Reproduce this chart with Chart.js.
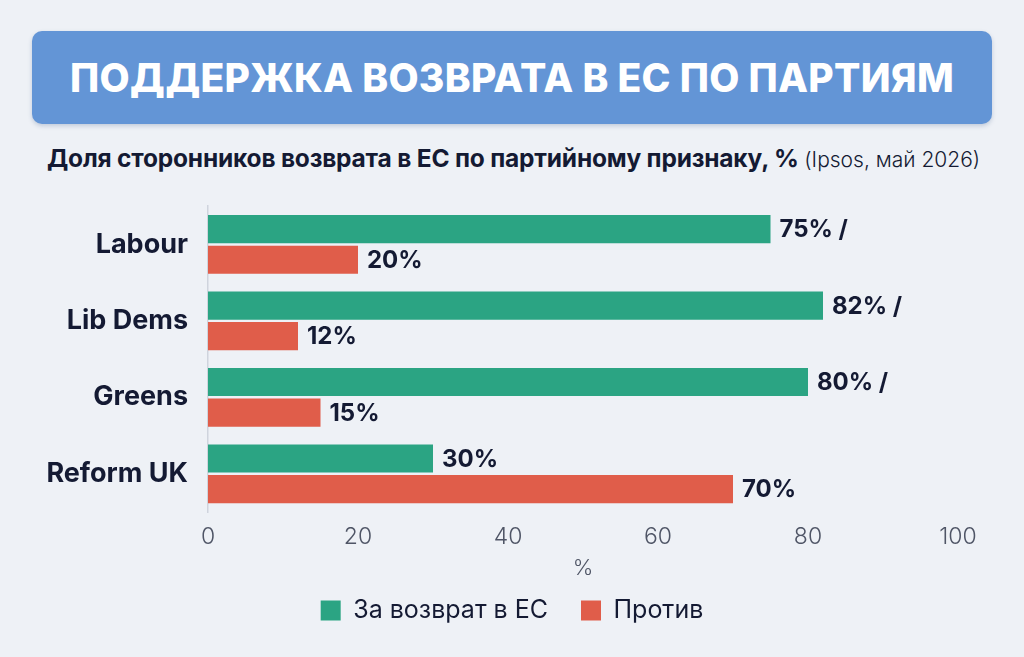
<!DOCTYPE html>
<html>
<head>
<meta charset="utf-8">
<script src="https://cdn.jsdelivr.net/npm/chart.js@4"></script>
<style>
  html, body { margin: 0; padding: 0; }
  body {
    width: 1024px; height: 657px; overflow: hidden;
    background: #eef1f6;
    font-family: Inter, "Noto Sans", sans-serif;
    position: relative;
  }
  .title-box {
    position: absolute; left: 32px; top: 31px; width: 960px; height: 93px;
    background: #6395d6; border-radius: 10px;
    box-shadow: 0 2px 4px rgba(60, 90, 140, 0.25);
    color: #fff; font-weight: 800; font-size: 39px;
    display: flex; align-items: center; justify-content: center;
    letter-spacing: 0.3px;
  }
  .subtitle {
    position: absolute; left: 47px; top: 143px;
    font-size: 24.5px; color: #141a33; font-weight: 700; white-space: nowrap;
    letter-spacing: -0.2px;
  }
  .subtitle span { font-weight: 300; font-size: 21px; letter-spacing: 0; }
  .chart-wrap { position: absolute; left: 0; top: 170px; width: 1024px; height: 487px; }
</style>
</head>
<body>
<div class="title-box">ПОДДЕРЖКА ВОЗВРАТА В ЕС ПО ПАРТИЯМ</div>
<div class="subtitle">Доля сторонников возврата в ЕС по партийному признаку, % <span>(Ipsos, май 2026)</span></div>
<div class="chart-wrap"><canvas id="chart"></canvas></div>
<script>
const parties = ["Labour", "Lib Dems", "Greens", "Reform UK"];
const forReturn = [75, 82, 80, 30];
const against = [20, 12, 15, 70];
const forLabels = ["75% /", "82% /", "80% /", "30%"];
const againstLabels = ["20%", "12%", "15%", "70%"];
const xTicks = [0, 20, 40, 60, 80, 100];

const GREEN = "#2ba483";
const RED = "#e05d4a";
const DARK = "#141a33";
const FONT = "Inter, 'Noto Sans', sans-serif";

// draws value labels right after each bar
const barLabels = {
    id: "barLabels",
    afterDatasetsDraw(chart) {
        const ctx = chart.ctx;
        ctx.save();
        ctx.font = "700 24px " + FONT;
        ctx.fillStyle = DARK;
        ctx.textBaseline = "middle";
        ctx.textAlign = "left";
        const texts = [forLabels, againstLabels];
        chart.data.datasets.forEach((ds, i) => {
            chart.getDatasetMeta(i).data.forEach((bar, j) => {
                ctx.fillText(texts[i][j], bar.x + 9, bar.y + 1);
            });
        });
        ctx.restore();
    }
};

// keep the legend centred on the page, not on the padded area
const centerLegend = {
    id: "centerLegend",
    afterLayout(chart) {
        if (chart.legend) chart.legend.left = chart.width - chart.legend.right;
    }
};

const ctx = document.getElementById("chart").getContext("2d");
new Chart(ctx, {
    type: "bar",
    data: {
        labels: parties,
        datasets: [
            {
                label: "За возврат в ЕС",
                data: forReturn,
                backgroundColor: GREEN,
                categoryPercentage: 0.8,
                barPercentage: 0.92,
            },
            {
                label: "Против",
                data: against,
                backgroundColor: RED,
                categoryPercentage: 0.8,
                barPercentage: 0.92,
            },
        ],
    },
    options: {
        indexAxis: "y",
        responsive: true,
        maintainAspectRatio: false,
        animation: false,
        layout: { padding: { top: 0, right: 66, left: 0, bottom: 24 } },
        scales: {
            x: {
                min: 0,
                max: 100,
                afterBuildTicks: (scale) => { scale.ticks = xTicks.map(v => ({ value: v })); },
                grid: { display: false, drawTicks: false },
                border: { display: false },
                ticks: {
                    color: "#4f5566",
                    padding: 11,
                    font: { family: FONT, size: 23, weight: 300 },
                },
                title: {
                    display: true,
                    text: "%",
                    color: "#4f5566",
                    padding: { top: -6, bottom: -17 },
                    font: { family: FONT, size: 22, weight: 300 },
                },
            },
            y: {
                grid: { display: false, drawTicks: false },
                border: { display: true, color: "#cfd4dd", width: 1.5 },
                afterFit: (scale) => { scale.width = 208; },
                ticks: {
                    color: DARK,
                    padding: 20,
                    font: { family: FONT, size: 27, weight: 700 },
                },
            },
        },
        plugins: {
            legend: {
                position: "bottom",
                labels: {
                    color: DARK,
                    boxWidth: 20,
                    boxHeight: 20,
                    padding: 33,
                    font: { family: FONT, size: 25 },
                },
            },
            tooltip: { enabled: false },
        },
    },
    plugins: [barLabels, centerLegend],
});
</script>
</body>
</html>
